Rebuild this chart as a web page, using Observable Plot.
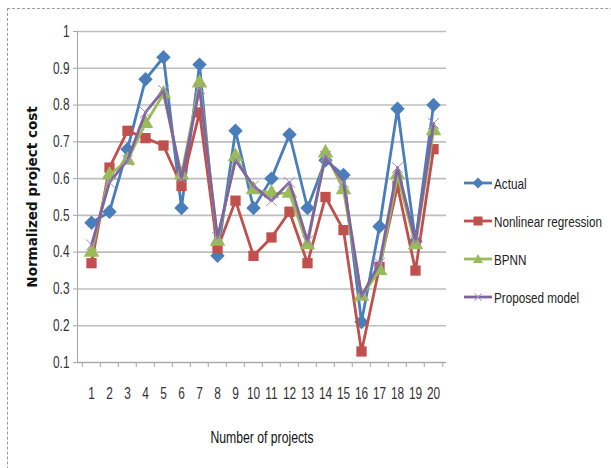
<!DOCTYPE html>
<html>
<head>
<meta charset="utf-8">
<script src="https://cdn.jsdelivr.net/npm/d3@7"></script>
<script src="https://cdn.jsdelivr.net/npm/@observablehq/plot@0.6"></script>
<style>
  html, body { margin: 0; padding: 0; background: #fff; }
  #wrap { position: relative; width: 611px; height: 468px; overflow: hidden; }
  #frame { position: absolute; left: 7px; top: 8px; width: 700px; height: 600px;
           border-left: 1px dashed #9a9a9a; border-top: 1px dashed #9a9a9a; }
  #legend { position: absolute; left: 463px; top: 164px;
            font-family: "Liberation Sans", Arial, sans-serif;
            font-size: 15px; color: #222; }
  .row { display: flex; align-items: center; height: 38px; white-space: nowrap; }
  .row svg { margin-right: 1px; flex: none; }
  .row span { display: inline-block; transform: scaleX(0.78); transform-origin: left center; }
</style>
</head>
<body>
<div id="wrap"><div id="frame"></div><div id="chart"></div><div id="legend"></div></div>
<script>
const projects = [1,2,3,4,5,6,7,8,9,10,11,12,13,14,15,16,17,18,19,20];
const actual    = [0.48,0.51,0.68,0.87,0.93,0.52,0.91,0.39,0.73,0.52,0.60,0.72,0.52,0.65,0.61,0.21,0.47,0.79,0.43,0.80];
const nonlinear = [0.37,0.63,0.73,0.71,0.69,0.58,0.78,0.41,0.54,0.39,0.44,0.51,0.37,0.55,0.46,0.13,0.36,0.58,0.35,0.68];
const bpnn      = [0.40,0.61,0.65,0.75,0.83,0.61,0.86,0.43,0.66,0.57,0.56,0.56,0.42,0.67,0.57,0.28,0.35,0.61,0.42,0.73];
const proposed  = [0.42,0.59,0.65,0.78,0.84,0.60,0.845,0.44,0.65,0.58,0.54,0.59,0.43,0.66,0.59,0.28,0.37,0.63,0.43,0.75];
const seriesNames = ["Actual","Nonlinear regression","BPNN","Proposed model"];
const yTicks = [0.1,0.2,0.3,0.4,0.5,0.6,0.7,0.8,0.9,1];

const colors = ["#4A7EBB","#C0504D","#9BBB59","#8064A2"];
const symbols = ["diamond2","square","triangle","times"];
const values = [actual, nonlinear, bpnn, proposed];

const W = 611, H = 468, mL = 77, mR = 165, mT = 31, mB = 106;
const step = (W - mL - mR) / projects.length;
const font = '"Liberation Sans", Arial, sans-serif';

const seriesMarks = [];
values.forEach((vals, i) => {
  const data = projects.map((p, j) => ({project: p, value: vals[j], series: seriesNames[i]}));
  seriesMarks.push(Plot.line(data, {x: "project", y: "value", stroke: colors[i], strokeWidth: 2.8}));
  if (symbols[i] === "times") {
    seriesMarks.push(Plot.dot(data, {x: "project", y: "value", symbol: "times", r: 5, stroke: "#A08CC0", strokeWidth: 1, fill: "none"}));
  } else {
    seriesMarks.push(Plot.dot(data, {x: "project", y: "value", symbol: symbols[i], r: symbols[i] === "diamond2" ? 6.5 : 5.8, fill: colors[i], stroke: "none"}));
  }
});

const chart = Plot.plot({
  width: W, height: H,
  marginLeft: mL, marginRight: mR, marginTop: mT, marginBottom: mB,
  style: {fontFamily: font, background: "transparent", overflow: "visible"},
  x: {type: "point", domain: projects, padding: 0.5},
  y: {domain: [0.1, 1]},
  marks: [
    Plot.gridY(yTicks, {stroke: "#BEBEBE", strokeWidth: 1.6, strokeOpacity: 1}),
    Plot.ruleY([0.1], {stroke: "#A6A6A6", strokeWidth: 1}),
    Plot.frame({anchor: "left", stroke: "#A6A6A6"}),
    Plot.axisY(yTicks, {tickSize: 4, tickPadding: 4, fontSize: 16.5, stroke: "#A6A6A6", fill: "#333",
      tickFormat: d => String(+d.toFixed(1)), label: null}),
    Plot.axisX(projects, {tickSize: 5, text: null, dx: -step / 2, stroke: "#A6A6A6", label: null}),
    Plot.axisX([20], {tickSize: 5, text: null, dx: step / 2, stroke: "#A6A6A6", label: null}),
    Plot.axisX(projects, {tickSize: 0, tickPadding: 25, fontSize: 16.5, fill: "#333", label: null}),
    Plot.text(["Normalized project cost"], {frameAnchor: "left", dx: -45, rotate: -90, textAnchor: "middle",
      fontSize: 13.5, fontWeight: "bold", fontFamily: "DejaVu Sans, sans-serif", fill: "#111"}),
    Plot.text(["Number of projects"], {frameAnchor: "bottom", dy: 80, fontSize: 16.5, fill: "#111"}),
    ...seriesMarks
  ]
});

// condense tick labels and x title (narrow font look)
d3.select(chart).selectAll('g[aria-label$="tick label"] text').each(function() {
  const t = this.getAttribute("transform") || "";
  this.setAttribute("transform", t + " scale(0.72,1)");
});
d3.select(chart).selectAll('g[aria-label="text"] text').each(function() {
  if (this.textContent === "Number of projects") {
    const t = this.getAttribute("transform") || "";
    this.setAttribute("transform", t + " scale(0.74,1)");
  }
});
document.getElementById("chart").appendChild(chart);

// Legend
const legend = document.getElementById("legend");
seriesNames.forEach((name, i) => {
  const row = document.createElement("div");
  row.className = "row";
  let marker;
  if (symbols[i] === "diamond2") marker = `<path d="M15,1.5 L20.5,7 L15,12.5 L9.5,7 Z" fill="${colors[i]}"/>`;
  else if (symbols[i] === "square") marker = `<rect x="10.5" y="2.5" width="9" height="9" fill="${colors[i]}"/>`;
  else if (symbols[i] === "triangle") marker = `<path d="M15,2 L20,11 L10,11 Z" fill="${colors[i]}"/>`;
  else marker = `<path d="M11.5,3.5 L18.5,10.5 M18.5,3.5 L11.5,10.5" stroke="#A08CC0" stroke-width="1"/>`;
  row.innerHTML = `<svg width="30" height="14"><line x1="1" y1="7" x2="29" y2="7" stroke="${colors[i]}" stroke-width="2.8"/>${marker}</svg><span>${name}</span>`;
  legend.appendChild(row);
});
</script>
</body>
</html>
